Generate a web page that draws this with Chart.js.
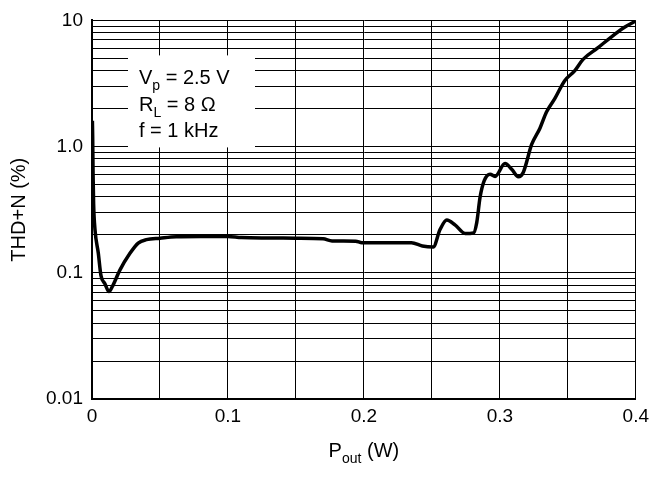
<!DOCTYPE html>
<html>
<head>
<meta charset="utf-8">
<script src="https://cdn.jsdelivr.net/npm/chart.js@4.4.1/dist/chart.umd.min.js"></script>
<style>
html,body{margin:0;padding:0;background:#fff}
#wrap{width:655px;height:480px}
</style>
</head>
<body>
<div id="wrap"><canvas id="thd" width="655" height="480"></canvas></div>
<script>
// curve: output power (W) vs THD+N (%)
const pout=[0.0003,0.0005,0.0008,0.0012,0.0022,0.0046,0.0066,0.0095,0.0125,0.015,0.0205,0.0278,0.034,0.040,0.05,0.062,0.08,0.1,0.11,0.13,0.15,0.17,0.1766,0.194,0.1985,0.235,0.243,0.251,0.256,0.261,0.267,0.2745,0.2806,0.283,0.2855,0.2886,0.2928,0.2965,0.3038,0.3087,0.3136,0.3172,0.3234,0.3295,0.3343,0.3404,0.3477,0.355,0.3612,0.372,0.3819,0.3917,0.4]
const thd=[1.6,1.2,0.6,0.35,0.22,0.144,0.095,0.082,0.071,0.078,0.105,0.142,0.172,0.183,0.188,0.193,0.194,0.194,0.19,0.189,0.188,0.186,0.179,0.178,0.173,0.173,0.163,0.16,0.22,0.262,0.24,0.205,0.207,0.25,0.40,0.54,0.605,0.58,0.733,0.662,0.577,0.624,1.04,1.40,1.88,2.40,3.33,3.98,4.91,6.05,7.38,8.82,9.9]

// axes
const xTicks=[0,0.1,0.2,0.3,0.4]
const xTickLabels=['0','0.1','0.2','0.3','0.4']
const xGridStep=0.05
const yTicks=[0.01,0.1,1,10]
const yTickLabels=['0.01','0.1','1.0','10']

// text
const xTitle={main:'P',sub:'out',rest:' (W)'}
const yTitle='THD+N (%)'
const notes=[
  {main:'V',sub:'p',rest:' = 2.5 V'},
  {main:'R',sub:'L',rest:' = 8 \u03A9'},
  {main:'f',sub:'',rest:' = 1 kHz'}
]

const FONT="'Liberation Sans', Arial, sans-serif"

function near(list,v){
  return list.findIndex(t=>Math.abs(t-v)<1e-9*Math.max(1,Math.abs(t))+1e-9)
}

// draw "main" + subscript + rest, left aligned at x, baseline y
function subText(ctx,parts,x,y,size){
  ctx.font=size+'px '+FONT
  ctx.fillText(parts.main,x,y)
  x+=ctx.measureText(parts.main).width
  if(parts.sub){
    ctx.font=Math.round(size*0.72)+'px '+FONT
    ctx.fillText(parts.sub,x,y+size*0.28)
    x+=ctx.measureText(parts.sub).width
  }
  ctx.font=size+'px '+FONT
  ctx.fillText(parts.rest,x,y)
}
function subWidth(ctx,parts,size){
  ctx.font=size+'px '+FONT
  let w=ctx.measureText(parts.main).width+ctx.measureText(parts.rest).width
  ctx.font=Math.round(size*0.72)+'px '+FONT
  return w+(parts.sub?ctx.measureText(parts.sub).width:0)
}

const decor={
  id:'decor',
  beforeDatasetsDraw(chart){
    const ctx=chart.ctx, a=chart.chartArea
    ctx.save()
    // white legend box over the grid
    ctx.fillStyle='#fff'
    ctx.fillRect(a.left+36,a.top+35,127,92)
    ctx.fillStyle='#000'
    ctx.textBaseline='alphabetic'
    notes.forEach((n,i)=>subText(ctx,n,a.left+47,a.top+64+i*26.5,20))
    ctx.restore()
  },
  afterDraw(chart){
    const ctx=chart.ctx, a=chart.chartArea
    ctx.save()
    ctx.fillStyle='#000'
    ctx.textBaseline='alphabetic'
    const size=20
    const w=subWidth(ctx,xTitle,size)
    subText(ctx,xTitle,(a.left+a.right)/2-w/2,457,size)
    ctx.translate(25,(a.top+a.bottom)/2)
    ctx.rotate(-Math.PI/2)
    ctx.font=size+'px '+FONT
    ctx.textAlign='center'
    ctx.fillText(yTitle,0,0)
    ctx.restore()
  }
}

const ctx=document.getElementById('thd').getContext('2d')
new Chart(ctx,{
  type:'line',
  data:{
    datasets:[{
      data:pout.map((x,i)=>({x:x,y:thd[i]})),
      borderColor:'#000',
      borderWidth:3.5,
      pointRadius:0,
      cubicInterpolationMode:'monotone',
      fill:false
    }]
  },
  options:{
    responsive:false,
    animation:false,
    layout:{padding:{top:14,right:17,left:0,bottom:0}},
    plugins:{legend:{display:false},tooltip:{enabled:false}},
    scales:{
      x:{
        type:'linear',min:0,max:0.4,
        afterFit(s){s.height=81},
        afterBuildTicks(s){
          const t=[]
          for(let i=0;i<=Math.round(0.4/xGridStep);i++) t.push({value:+(i*xGridStep).toFixed(3)})
          s.ticks=t
        },
        grid:{color:'#000',lineWidth:1,drawTicks:false},
        border:{color:'#000',width:2},
        ticks:{
          autoSkip:false,maxRotation:0,padding:6,color:'#000',
          font:{family:FONT,size:19},
          callback(v){const i=near(xTicks,v);return i<0?'':xTickLabels[i]}
        }
      },
      y:{
        type:'logarithmic',min:0.01,max:10,
        afterFit(s){s.width=92},
        afterBuildTicks(s){
          const t=[]
          for(let d=0;d<yTicks.length-1;d++)
            for(let k=1;k<10;k++) t.push({value:yTicks[d]*k})
          t.push({value:yTicks[yTicks.length-1]})
          s.ticks=t
        },
        grid:{color:'#000',lineWidth:1,drawTicks:false},
        border:{color:'#000',width:2},
        ticks:{
          autoSkip:false,padding:9,color:'#000',
          font:{family:FONT,size:19},
          callback(v){const i=near(yTicks,v);return i<0?'':yTickLabels[i]}
        }
      }
    }
  },
  plugins:[decor]
})
</script>
</body>
</html>
